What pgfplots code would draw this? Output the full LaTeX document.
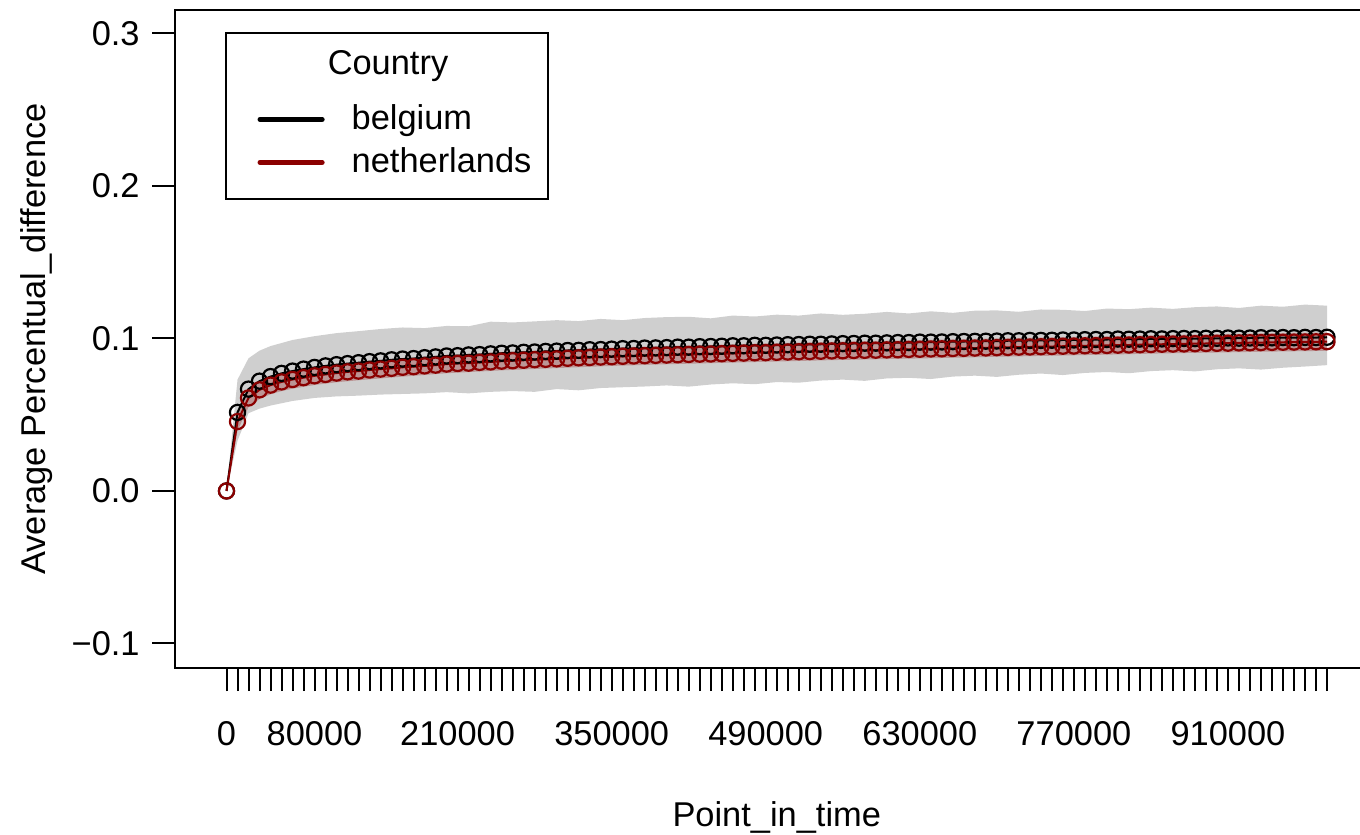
\documentclass[border=0pt]{standalone}
\usepackage{fontspec}
\setmainfont{Liberation Sans}
\usepackage{pgfplots}
\usepackage{pgfplotstable}
\pgfplotsset{compat=1.18}
\usepgfplotslibrary{fillbetween}

\definecolor{nlred}{RGB}{139,0,0}
\definecolor{bandgray}{RGB}{207,207,207}

% mean percentual difference per point in time
\pgfplotstableread{
x b n
0 0 0
10000 0.0515 0.0455
20000 0.0668 0.0610
30000 0.0720 0.0663
40000 0.0750 0.0694
50000 0.0771 0.0715
60000 0.0786 0.0731
70000 0.0799 0.0743
80000 0.0810 0.0755
90000 0.0820 0.0764
100000 0.0828 0.0773
110000 0.0835 0.0781
120000 0.0841 0.0786
130000 0.0848 0.0793
140000 0.0853 0.0799
150000 0.0860 0.0804
160000 0.0865 0.0811
170000 0.0868 0.0815
180000 0.0874 0.0820
190000 0.0879 0.0825
200000 0.0885 0.0832
210000 0.0887 0.0836
220000 0.0892 0.0838
230000 0.0894 0.0843
240000 0.0899 0.0846
250000 0.0903 0.0851
260000 0.0905 0.0854
270000 0.0909 0.0857
280000 0.0911 0.0861
290000 0.0915 0.0863
300000 0.0917 0.0866
310000 0.0921 0.0870
320000 0.0922 0.0873
330000 0.0926 0.0875
340000 0.0927 0.0878
350000 0.0930 0.0880
360000 0.0933 0.0883
370000 0.0934 0.0885
380000 0.0937 0.0887
390000 0.0938 0.0889
400000 0.0940 0.0891
410000 0.0943 0.0893
420000 0.0943 0.0895
430000 0.0946 0.0897
440000 0.0947 0.0898
450000 0.0949 0.0900
460000 0.0952 0.0902
470000 0.0952 0.0904
480000 0.0955 0.0906
490000 0.0955 0.0907
500000 0.0957 0.0909
510000 0.0959 0.0911
520000 0.0960 0.0913
530000 0.0962 0.0914
540000 0.0962 0.0916
550000 0.0964 0.0918
560000 0.0966 0.0919
570000 0.0967 0.0921
580000 0.0969 0.0922
590000 0.0969 0.0923
600000 0.0971 0.0925
610000 0.0973 0.0926
620000 0.0973 0.0928
630000 0.0976 0.0929
640000 0.0976 0.0931
650000 0.0977 0.0932
660000 0.0979 0.0934
670000 0.0980 0.0935
680000 0.0981 0.0937
690000 0.0982 0.0938
700000 0.0983 0.0940
710000 0.0985 0.0941
720000 0.0985 0.0943
730000 0.0987 0.0944
740000 0.0987 0.0946
750000 0.0988 0.0947
760000 0.0990 0.0949
770000 0.0990 0.0950
780000 0.0992 0.0952
790000 0.0993 0.0953
800000 0.0993 0.0954
810000 0.0996 0.0956
820000 0.0995 0.0957
830000 0.0996 0.0959
840000 0.0998 0.0960
850000 0.0997 0.0962
860000 0.0999 0.0963
870000 0.1000 0.0964
880000 0.0999 0.0966
890000 0.1001 0.0967
900000 0.1001 0.0968
910000 0.1003 0.0969
920000 0.1002 0.0971
930000 0.1003 0.0972
940000 0.1005 0.0973
950000 0.1004 0.0974
960000 0.1006 0.0975
970000 0.1005 0.0976
980000 0.1007 0.0977
990000 0.1006 0.0978
1000000 0.1008 0.0979
}\means

% spread band (grey)
\pgfplotstableread{
x lo hi
0 0 0
10000 0.033 0.073
20000 0.051 0.087
30000 0.054 0.092
40000 0.056 0.095
60000 0.059 0.099
80000 0.061 0.1015
100000 0.0620 0.1035
120000 0.0625 0.1048
140000 0.0632 0.1062
160000 0.0636 0.1072
180000 0.0640 0.1068
200000 0.0648 0.1082
220000 0.0640 0.1080
240000 0.0650 0.1110
260000 0.0655 0.1105
280000 0.0650 0.1112
300000 0.0668 0.1120
320000 0.0660 0.1114
340000 0.0675 0.1128
360000 0.0680 0.1120
380000 0.0685 0.1134
400000 0.0692 0.1140
420000 0.0684 0.1142
440000 0.0698 0.1132
460000 0.0706 0.1150
480000 0.0700 0.1144
500000 0.0714 0.1156
520000 0.0710 0.1150
540000 0.0724 0.1164
560000 0.0730 0.1155
580000 0.0722 0.1162
600000 0.0738 0.1174
620000 0.0742 0.1164
640000 0.0734 0.1178
660000 0.0750 0.1168
680000 0.0756 0.1182
700000 0.0748 0.1184
720000 0.0762 0.1175
740000 0.0770 0.1190
760000 0.0760 0.1188
780000 0.0774 0.1180
800000 0.0780 0.1196
820000 0.0772 0.1192
840000 0.0786 0.1202
860000 0.0792 0.1194
880000 0.0784 0.1205
900000 0.0798 0.1210
920000 0.0804 0.1200
940000 0.0796 0.1215
960000 0.0808 0.1208
980000 0.0816 0.1222
1000000 0.0825 0.1215
}\greyband

% netherlands interval (red)
\pgfplotstableread{
x lo hi
0 0 0
10000 0.0395 0.0515
20000 0.0550 0.0670
30000 0.0603 0.0723
40000 0.0634 0.0754
50000 0.0655 0.0775
60000 0.0671 0.0791
80000 0.0695 0.0815
100000 0.0713 0.0833
120000 0.0726 0.0846
150000 0.0744 0.0864
200000 0.0772 0.0892
250000 0.0791 0.0911
300000 0.0806 0.0926
350000 0.0820 0.0940
400000 0.0831 0.0951
450000 0.0840 0.0960
500000 0.0849 0.0969
550000 0.0858 0.0978
600000 0.0865 0.0985
650000 0.0872 0.0992
700000 0.0880 0.1000
750000 0.0887 0.1007
800000 0.0894 0.1014
850000 0.0902 0.1022
900000 0.0908 0.1028
950000 0.0914 0.1034
1000000 0.0919 0.1039
}\redband

\begin{document}
\begin{tikzpicture}
\begin{axis}[
  name=ax,
  at={(0,0)}, anchor=south west,
  scale only axis, width=601.75bp, height=329bp,
  xmin=-46800, xmax=1046800, ymin=-0.1161, ymax=0.3154,
  font=\fontsize{17.2bp}{20bp}\selectfont,
  axis line style={line width=1bp, black},
  tick align=outside, xtick pos=bottom, ytick pos=left,
  major tick length=11.5bp,
  tick style={line width=1bp, black},
  scaled x ticks=false, scaled y ticks=false,
  xtick={0,10000,...,1000000}, xticklabels={},
  extra x ticks={0,80000,210000,350000,490000,630000,770000,910000},
  extra x tick labels={0,80000,210000,350000,490000,630000,770000,910000},
  extra x tick style={tick style={line width=1bp, black}},
  xticklabel style={anchor=north, inner sep=0pt},
  xticklabel shift=15bp,
  ytick={-0.1,0,0.1,0.2,0.3},
  yticklabels={−0.1,0.0,0.1,0.2,0.3},
  yticklabel style={anchor=east, inner sep=0pt},
  yticklabel shift=6bp,
  xlabel={Point\_in\_time},
  ylabel={Average Percentual\_difference},
  xlabel style={at={(axis description cs:0.5,-0.2405)}, anchor=base, inner sep=0pt},
  ylabel style={at={(axis description cs:-0.115,0.5)}, anchor=center, inner sep=0pt},
  legend style={at={(axis description cs:0,1)}, anchor=north west,
    xshift=41.25bp, yshift=-47.5bp, draw=none, fill=none, inner sep=0pt,
    outer sep=0pt, row sep=5bp,
    nodes={inner sep=0pt, text height=12.5bp, text depth=4bp},
    /tikz/every odd column/.append style={column sep=13.5bp}},
  legend cell align=left,
  legend image code/.code={\draw[#1, line width=2.6bp, line cap=round] (0bp,1bp) -- (31bp,1bp);},
]
% grey spread band
\addplot[name path=gu, draw=none, forget plot] table[x=x, y=hi]{\greyband};
\addplot[name path=gl, draw=none, forget plot] table[x=x, y=lo]{\greyband};
\addplot[fill=bandgray, draw=none, forget plot] fill between[of=gu and gl];

% belgium
\addplot[black, line width=1bp, mark=o, mark size=3.8bp,
  mark options={line width=1.1bp}, forget plot] table[x=x, y=b]{\means};

% netherlands interval and means
\addplot[name path=ru, draw=none, forget plot] table[x=x, y=hi]{\redband};
\addplot[name path=rl, draw=none, forget plot] table[x=x, y=lo]{\redband};
\addplot[fill=nlred, fill opacity=0.28, draw=none, forget plot] fill between[of=ru and rl];
\addplot[nlred, line width=1bp, mark=o, mark size=3.8bp,
  mark options={line width=1.1bp}, forget plot] table[x=x, y=n]{\means};

\addlegendimage{black}
\addlegendentry{belgium}
\addlegendimage{nlred}
\addlegendentry{netherlands}
\end{axis}
% legend frame and title
\draw[line width=1bp] ([shift={(25.5bp,-11.5bp)}]ax.north west)
  rectangle ([shift={(186.5bp,-94.5bp)}]ax.north west);
\node[anchor=base, inner sep=0pt, font=\fontsize{17.2bp}{20bp}\selectfont]
  at ([shift={(106.5bp,-32.5bp)}]ax.north west) {Country};
% page extent
\pgfresetboundingbox
\useasboundingbox (-87.5bp,-83.5bp) rectangle (592.5bp,334bp);
\end{tikzpicture}
\end{document}
